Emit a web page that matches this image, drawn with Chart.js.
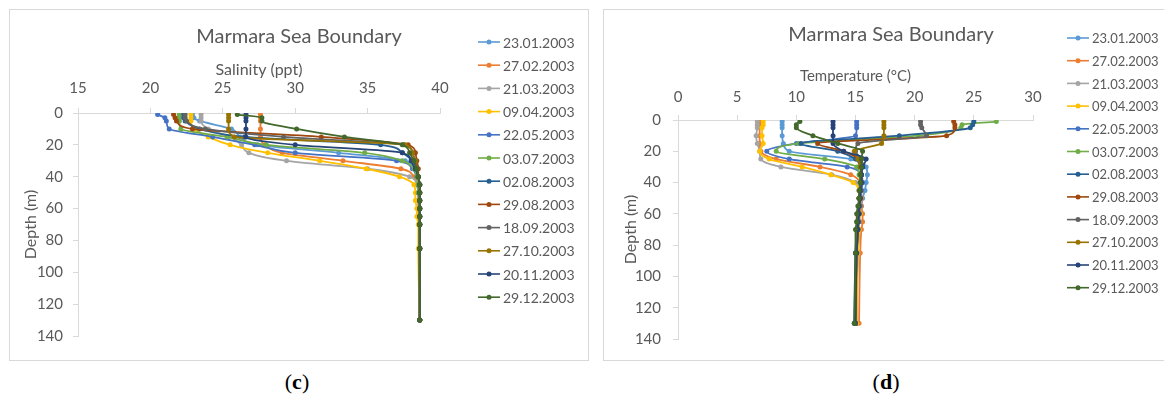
<!DOCTYPE html>
<html>
<head>
<meta charset="utf-8">
<script src="https://cdn.jsdelivr.net/npm/chart.js@4.4.0/dist/chart.umd.min.js"></script>
<style>
  body { margin: 0; background: #fff; width: 1164px; height: 398px; overflow: hidden; position: relative; }
  .panel { position: absolute; top: 9px; height: 350px; border: 1px solid #d9d9d9; background: #fff; }
  .caption { position: absolute; top: 369px; width: 100px; text-align: center; font: 22px "Liberation Serif", serif; color: #000; }
</style>
</head>
<body>
<div class="panel" style="left:9px;width:578px"><canvas id="salinityChart" width="578" height="350"></canvas></div>
<div class="panel" style="left:603px;width:574px"><canvas id="temperatureChart" width="574" height="350"></canvas></div>
<div class="caption" style="left:247px">(<b>c</b>)</div>
<div class="caption" style="left:836px">(<b>d</b>)</div>
<script>
const depths = [1, 3, 5, 10, 15, 20, 25, 30, 35, 40, 45, 50, 55, 60, 65, 70, 85, 130];
const dates = ["23.01.2003", "27.02.2003", "21.03.2003", "09.04.2003", "22.05.2003", "03.07.2003",
    "02.08.2003", "29.08.2003", "18.09.2003", "27.10.2003", "20.11.2003", "29.12.2003"];
const colors = ["#5B9BD5", "#ED7D31", "#A5A5A5", "#FFC000", "#4472C4", "#70AD47",
    "#255E91", "#9E480E", "#636363", "#997300", "#264478", "#43682B"];

// salinity (ppt) per depth
const sal2301 = [22.9, 23.0, 23.4, 25.6, 26.2, 27.4, 33.0, 37.6, 38.2, 38.4, 38.5, 38.5, 38.5, 38.6, 38.6, 38.6, 38.6, 38.6];
const sal2702 = [27.6, 27.6, 27.6, 27.6, 27.6, 27.9, 29.1, 33.3, 37.3, 38.2, 38.4, 38.5, 38.5, 38.5, 38.6, 38.6, 38.6, 38.6];
const sal2103 = [23.5, 23.5, 23.5, 24.0, 25.5, 26.3, 26.8, 29.4, 35.0, 37.9, 38.4, 38.5, 38.5, 38.5, 38.5, 38.6, 38.6, 38.6];
const sal0904 = [22.8, 22.8, 22.8, 23.0, 24.0, 25.5, 28.1, 31.7, 34.9, 37.2, 38.2, 38.3, 38.3, 38.4, 38.4, 38.5, 38.5, 38.6];
const sal2205 = [20.5, 21.0, 21.1, 21.3, 24.3, 27.2, 30.0, 37.0, 38.1, 38.4, 38.5, 38.5, 38.6, 38.6, 38.6, 38.6, 38.6, 38.6];
const sal0307 = [22.0, 22.0, 22.0, 22.1, 25.3, 28.0, 34.8, 37.4, 38.2, 38.4, 38.5, 38.5, 38.6, 38.6, 38.6, 38.6, 38.6, 38.6];
const sal0208 = [22.3, 22.3, 22.4, 23.4, 26.5, 35.9, 37.4, 38.1, 38.4, 38.5, 38.6, 38.6, 38.6, 38.6, 38.6, 38.6, 38.6, 38.6];
const sal2908 = [21.6, 21.7, 21.8, 22.9, 31.8, 37.8, 38.3, 38.4, 38.5, 38.5, 38.6, 38.6, 38.6, 38.6, 38.6, 38.6, 38.6, 38.6];
const sal1809 = [22.4, 22.4, 22.5, 23.8, 29.2, 37.5, 38.1, 38.3, 38.4, 38.5, 38.6, 38.6, 38.6, 38.6, 38.6, 38.6, 38.6, 38.6];
const sal2710 = [25.4, 25.4, 25.4, 25.4, 25.8, 37.6, 38.1, 38.3, 38.4, 38.5, 38.6, 38.6, 38.6, 38.6, 38.6, 38.6, 38.6, 38.6];
const sal2011 = [26.6, 26.6, 26.6, 26.6, 26.6, 30.0, 37.4, 38.0, 38.3, 38.5, 38.6, 38.6, 38.6, 38.6, 38.6, 38.6, 38.6, 38.6];
const sal2912 = [26.0, 27.7, 27.7, 30.1, 33.4, 37.4, 37.9, 38.2, 38.4, 38.5, 38.6, 38.6, 38.6, 38.6, 38.6, 38.6, 38.6, 38.6];

// temperature (°C) per depth
const tmp2301 = [8.8, 8.8, 8.8, 8.8, 8.9, 9.4, 14.6, 15.9, 16.0, 15.9, 15.8, 15.6, 15.5, 15.4, 15.3, 15.3, 15.2, 15.0];
const tmp2702 = [6.9, 6.9, 6.9, 6.9, 6.9, 7.0, 8.3, 12.0, 14.6, 15.4, 15.5, 15.5, 15.5, 15.6, 15.6, 15.5, 15.4, 15.3];
const tmp2103 = [6.7, 6.7, 6.7, 6.6, 6.7, 6.9, 7.0, 8.7, 13.0, 15.0, 15.4, 15.4, 15.4, 15.4, 15.3, 15.3, 15.2, 15.1];
const tmp0904 = [7.2, 7.2, 7.1, 7.1, 7.2, 6.9, 7.7, 10.5, 12.9, 14.8, 15.3, 15.4, 15.4, 15.4, 15.3, 15.3, 15.2, 15.1];
const tmp2205 = [15.1, 15.1, 15.1, 15.0, 10.0, 7.5, 9.4, 14.3, 15.5, 15.6, 15.5, 15.4, 15.4, 15.3, 15.3, 15.2, 15.1, 15.0];
const tmp0307 = [26.9, 24.0, 23.9, 20.3, 10.2, 8.3, 12.4, 15.1, 15.3, 15.4, 15.4, 15.3, 15.3, 15.2, 15.1, 15.1, 15.0, 14.9];
const tmp0208 = [25.0, 24.9, 24.7, 18.7, 10.4, 13.5, 15.0, 15.4, 15.5, 15.5, 15.4, 15.3, 15.3, 15.2, 15.2, 15.1, 15.0, 14.9];
const tmp2908 = [23.3, 23.4, 23.4, 22.7, 11.8, 14.0, 15.3, 15.5, 15.5, 15.5, 15.4, 15.4, 15.3, 15.3, 15.2, 15.2, 15.1, 15.0];
const tmp1809 = [20.5, 20.5, 20.6, 21.0, 15.2, 15.0, 15.5, 15.6, 15.5, 15.5, 15.4, 15.4, 15.3, 15.3, 15.2, 15.2, 15.1, 15.0];
const tmp2710 = [17.4, 17.4, 17.4, 17.4, 17.2, 14.9, 15.2, 15.4, 15.5, 15.5, 15.4, 15.3, 15.3, 15.2, 15.2, 15.1, 15.1, 15.0];
const tmp2011 = [13.1, 13.1, 13.1, 13.1, 13.1, 14.0, 15.9, 15.6, 15.5, 15.5, 15.4, 15.4, 15.3, 15.3, 15.2, 15.2, 15.1, 15.0];
const tmp2912 = [10.3, 10.0, 10.0, 11.4, 13.5, 15.6, 15.5, 15.5, 15.4, 15.4, 15.3, 15.3, 15.2, 15.1, 15.1, 15.0, 15.0, 14.9];

const salinitySeries = [sal2301, sal2702, sal2103, sal0904, sal2205, sal0307, sal0208, sal2908, sal1809, sal2710, sal2011, sal2912];
const temperatureSeries = [tmp2301, tmp2702, tmp2103, tmp0904, tmp2205, tmp0307, tmp0208, tmp2908, tmp1809, tmp2710, tmp2011, tmp2912];

Chart.defaults.font.family = "Lato, 'Open Sans', sans-serif";
Chart.defaults.color = "#595959";

// Excel style legend: short line with a dot, one row per series
const sideLegend = {
    id: "sideLegend",
    afterDraw(chart, args, opts) {
        const ctx = chart.ctx;
        ctx.save();
        ctx.font = opts.size + "px Lato, 'Open Sans', sans-serif";
        ctx.textBaseline = "middle";
        chart.data.datasets.forEach(function (ds, i) {
            let y = opts.y + i * opts.step;
            ctx.strokeStyle = ds.borderColor;
            ctx.lineWidth = 1.6;
            ctx.beginPath();
            ctx.moveTo(opts.x, y);
            ctx.lineTo(opts.x + 22, y);
            ctx.stroke();
            ctx.fillStyle = ds.borderColor;
            ctx.beginPath();
            ctx.arc(opts.x + 11, y, 2.5, 0, Math.PI * 2);
            ctx.fill();
            ctx.fillStyle = "#595959";
            ctx.fillText(ds.label, opts.x + 25, y + 1);
        });
        ctx.restore();
    }
};

function buildDatasets(series) {
    return series.map(function (values, i) {
        return {
            label: dates[i],
            data: values.map(function (v, j) { return { x: v, y: depths[j] }; }),
            xAxisID: "x",
            yAxisID: "y",
            borderColor: colors[i],
            backgroundColor: colors[i],
            borderWidth: 1.8,
            pointRadius: 2.5,
            pointBorderWidth: 0,
            cubicInterpolationMode: "monotone",
            order: series.length - i
        };
    });
}

function buildOptions(cfg) {
    return {
        responsive: false,
        animation: false,
        indexAxis: "y",
        layout: { padding: { left: 0, right: 0, top: 0, bottom: cfg.padBottom } },
        plugins: {
            legend: { display: false },
            tooltip: { enabled: false },
            title: {
                display: true, text: "Marmara Sea Boundary", color: "#595959",
                font: { size: 20, weight: "normal" }, padding: { top: cfg.titleTop, bottom: 0 }
            },
            sideLegend: cfg.legend
        },
        scales: {
            x: {
                type: "linear", position: "top", min: cfg.xMin, max: cfg.xMax,
                ticks: { stepSize: 5, font: { size: 15 }, padding: cfg.xTickPad },
                grid: { drawOnChartArea: false, tickLength: 5, color: "#d9d9d9" },
                border: { color: "#d9d9d9" },
                title: { display: true, text: cfg.xTitle, font: { size: cfg.xTitleSize }, padding: { top: cfg.xTitlePad, bottom: 0 } },
                afterFit: function (scale) { scale.height = cfg.xHeight; }
            },
            y: {
                type: "linear", position: "left", reverse: true, min: 0, max: 140,
                ticks: { stepSize: 20, font: { size: 15 }, padding: cfg.yTickPad },
                grid: { drawOnChartArea: false, tickLength: 5, color: "#d9d9d9" },
                border: { color: "#d9d9d9" },
                title: { display: true, text: "Depth (m)", font: { size: 16 }, padding: { top: cfg.yTitlePad, bottom: 0 } },
                afterFit: function (scale) { scale.width = cfg.yWidth; }
            },
            // empty box on the right that leaves room for the legend
            legendSpace: {
                type: "linear", position: "right", min: 0, max: 1,
                ticks: { display: false }, grid: { display: false }, border: { display: false },
                afterFit: function (scale) { scale.width = cfg.legendWidth; }
            }
        }
    };
}

new Chart(document.getElementById("salinityChart"), {
    type: "line",
    data: { datasets: buildDatasets(salinitySeries) },
    options: buildOptions({
        xTitle: "Salinity (ppt)", xTitleSize: 16, xMin: 15, xMax: 40,
        legendWidth: 148, padBottom: 24, titleTop: 15,
        xHeight: 64, xTitlePad: 11, xTickPad: 11,
        yWidth: 68, yTickPad: 10, yTitlePad: 11,
        legend: { x: 468, y: 32, step: 23.2, size: 14 }
    }),
    plugins: [sideLegend]
});

new Chart(document.getElementById("temperatureChart"), {
    type: "line",
    data: { datasets: buildDatasets(temperatureSeries) },
    options: buildOptions({
        xTitle: "Temperature (°C)", xTitleSize: 15, xMin: 0, xMax: 30,
        legendWidth: 145, padBottom: 21, titleTop: 13,
        xHeight: 73, xTitlePad: 20, xTickPad: 9,
        yWidth: 74, yTickPad: 12, yTitlePad: 17,
        legend: { x: 463, y: 28, step: 22.7, size: 13 }
    }),
    plugins: [sideLegend]
});
</script>
</body>
</html>
